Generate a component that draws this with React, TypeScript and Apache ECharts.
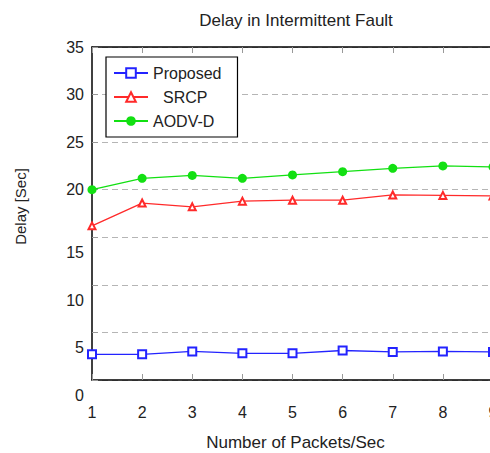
import React, { useEffect, useRef } from "react";
import * as echarts from "echarts";

const categories = ["1", "2", "3", "4", "5", "6", "7", "8", "9"];
const proposed = [2.7, 2.7, 3.0, 2.8, 2.8, 3.1, 2.95, 3.0, 2.95];
const srcp = [16.2, 18.6, 18.2, 18.8, 18.9, 18.9, 19.45, 19.4, 19.35];
const aodvd = [20.0, 21.2, 21.5, 21.2, 21.55, 21.9, 22.25, 22.5, 22.4];
const yMin = 0;
const yMax = 35;
const yStep = 5;

const FONT = "Liberation Sans, Arial, sans-serif";

export default function App() {
  const ref = useRef<HTMLDivElement>(null);
  useEffect(() => {
    if (!ref.current) return;
    const chart = echarts.init(ref.current, null, { renderer: "svg" });
    const tickGray = { show: true, inside: true, length: 6, lineStyle: { color: "#999", width: 1 } };
    chart.setOption({
      animation: false,
      backgroundColor: "#fff",
      textStyle: { fontFamily: FONT },
      title: {
        text: "Delay in Intermittent Fault",
        left: 291,
        textAlign: "center",
        top: 7,
        textStyle: { fontFamily: FONT, fontSize: 17, fontWeight: "normal", color: "#222" },
      },
      legend: {
        orient: "vertical",
        left: 106,
        top: 57,
        padding: [8, 16, 8, 7],
        itemWidth: 34,
        itemHeight: 12,
        itemGap: 8,
        borderColor: "#000",
        borderWidth: 1.2,
        backgroundColor: "#fff",
        formatter: (n: string) => (n === "SRCP" ? "{c|SRCP}" : n),
        textStyle: {
          fontFamily: FONT,
          fontSize: 16,
          color: "#222",
          rich: { c: { fontFamily: FONT, fontSize: 16, color: "#222", padding: [0, 0, 0, 10] } },
        },
        data: ["Proposed", "SRCP", "AODV-D"],
      },
      grid: {
        left: 92,
        top: 47,
        width: 401,
        height: 333,
        containLabel: false,
        outerBoundsMode: "none",
      },
      xAxis: [
        {
          type: "category",
          data: categories,
          boundaryGap: false,
          position: "bottom",
          axisLine: { show: true, lineStyle: { color: "#000", width: 1.5 } },
          axisTick: tickGray,
          axisLabel: { margin: 24, fontSize: 16, color: "#222", fontFamily: FONT },
          name: "Number of Packets/Sec",
          nameLocation: "middle",
          nameGap: 54,
          nameTextStyle: { fontSize: 17, color: "#222", fontFamily: FONT, padding: [0, 0, 0, 6] },
          splitLine: { show: false },
        },
        {
          type: "category",
          data: categories,
          boundaryGap: false,
          position: "top",
          axisLine: { show: true, lineStyle: { color: "#000", width: 1.5 } },
          axisTick: tickGray,
          axisLabel: { show: false },
          splitLine: { show: false },
        },
      ],
      yAxis: {
        type: "value",
        min: yMin,
        max: yMax,
        interval: yStep,
        axisLine: { show: true, lineStyle: { color: "#000", width: 1.5 } },
        axisTick: tickGray,
        axisLabel: {
          margin: 8,
          fontSize: 16,
          color: "#222",
          fontFamily: FONT,
          formatter: (v: number) => (v <= 15 ? `{s|${v}}` : `${v}`),
          rich: { s: { fontSize: 16, color: "#222", fontFamily: FONT, padding: [31, 0, 0, 0] } },
        },
        splitLine: { show: true, lineStyle: { color: "#b5b5b5", width: 1, type: [6, 4] } },
        name: "Delay [Sec]",
        nameLocation: "middle",
        nameGap: 64,
        nameTextStyle: { fontSize: 15, color: "#222", fontFamily: FONT, padding: [0, 0, 0, 14] },
      },
      series: [
        {
          name: "Proposed",
          type: "line",
          data: proposed,
          color: "#2323ff",
          symbol: "emptyRect",
          symbolSize: 8,
          lineStyle: { width: 1.3, color: "#2323ff" },
          itemStyle: { color: "#2323ff", borderWidth: 1.3 },
        },
        {
          name: "SRCP",
          type: "line",
          data: srcp,
          color: "#ff2a2a",
          symbol: "emptyTriangle",
          symbolSize: 7,
          lineStyle: { width: 1.3, color: "#ff2a2a" },
          itemStyle: { color: "#ff2a2a", borderWidth: 1.5 },
        },
        {
          name: "AODV-D",
          type: "line",
          data: aodvd,
          color: "#12e012",
          symbol: "circle",
          symbolSize: 9,
          lineStyle: { width: 1.3, color: "#12e012" },
          itemStyle: { color: "#12e012" },
        },
      ],
    });
    return () => chart.dispose();
  }, []);
  return (
    <div
      ref={ref}
      style={{ position: "fixed", left: 0, top: 0, width: 490, height: 453, background: "#fff" }}
    />
  );
}
